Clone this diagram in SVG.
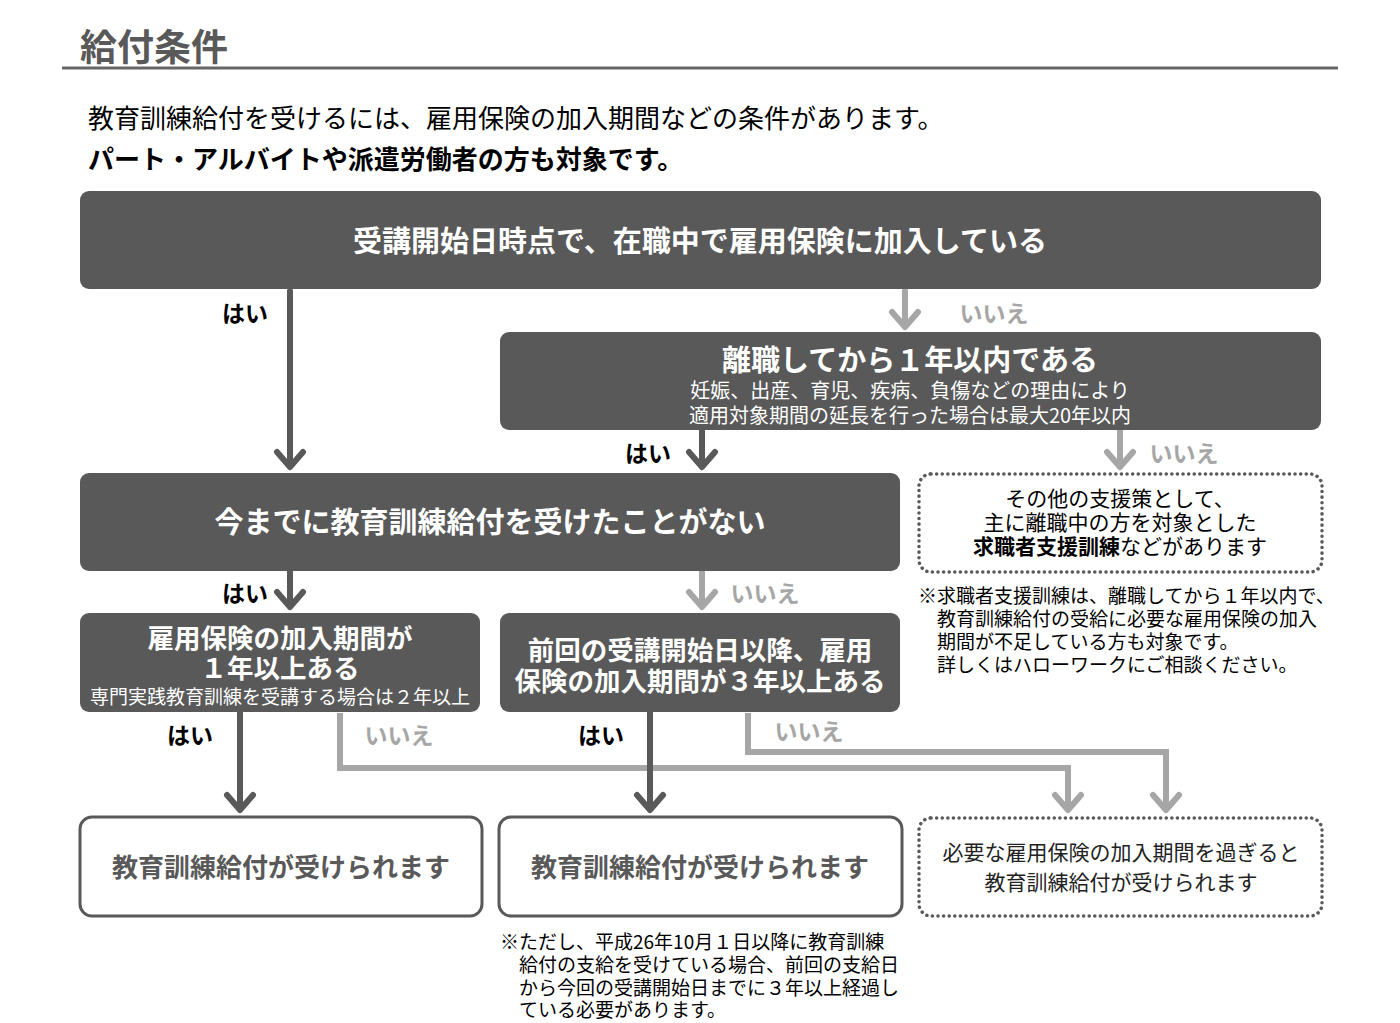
<svg xmlns="http://www.w3.org/2000/svg" width="1400" height="1023" viewBox="0 0 1400 1023">
<style>
text{font-family:"Noto Sans CJK JP","Noto Sans",sans-serif;dominant-baseline:central;text-anchor:middle}
.dark{fill:#595959}
.wt{fill:#fff;font-weight:bold}
.ws{fill:#fff;font-size:20px}
.outline{fill:#fff;stroke:#595959;stroke-width:3}
.dotted{fill:#fff;stroke:#595959;stroke-width:3.5;stroke-dasharray:0.1 5.5;stroke-linecap:round}
.cd{fill:none;stroke:#595959;stroke-width:6;stroke-linecap:round;stroke-linejoin:round}
.cg{fill:none;stroke:#a6a6a6;stroke-width:6;stroke-linejoin:miter}
.cgh{fill:none;stroke:#a6a6a6;stroke-width:6;stroke-linecap:round;stroke-linejoin:round}
.yes{font-size:23px;font-weight:bold;fill:#000}
.no{font-size:23px;font-weight:bold;fill:#a6a6a6}
.note{font-size:19px;fill:#000;text-anchor:start}
</style>
<rect width="1400" height="1023" fill="#fff"/>
<g id="header">
<text x="80" y="45" style="font-size:37px;font-weight:bold;fill:#595959;text-anchor:start">給付条件</text>
<line x1="62" y1="68" x2="1338" y2="68" stroke="#666" stroke-width="3"/>
<text x="88" y="116" style="font-size:26px;fill:#000;text-anchor:start">教育訓練給付を受けるには、雇用保険の加入期間などの条件があります。</text>
<text x="88" y="157" style="font-size:26px;font-weight:bold;fill:#000;text-anchor:start">パート・アルバイトや派遣労働者の方も対象です。</text>
</g>
<g id="connectors">
<path class="cd" d="M290 291 V466 M277 452 L290 467 L303 452"/>
<path class="cgh" d="M905 291 V326 M892 312 L905 327 L918 312"/>
<path class="cd" d="M702 431 V466 M689 452 L702 467 L715 452"/>
<path class="cgh" d="M1120 431 V466 M1107 452 L1120 467 L1133 452"/>
<path class="cd" d="M290 572 V606 M277 592 L290 607 L303 592"/>
<path class="cgh" d="M702 572 V606 M689 592 L702 607 L715 592"/>
<path class="cd" d="M240 713 V809 M227 795 L240 810 L253 795"/>
<path class="cg" d="M340 713 V768 H1068 V808"/>
<path class="cgh" d="M1055 795 L1068 810 L1081 795"/>
<path class="cg" d="M748 713 V752 H1166 V808"/>
<path class="cgh" d="M1153 795 L1166 810 L1179 795"/>
<path class="cd" d="M650 713 V809 M637 795 L650 810 L663 795"/>
<text class="yes" x="245" y="312">はい</text>
<text class="no" x="994" y="312">いいえ</text>
<text class="yes" x="648" y="452">はい</text>
<text class="no" x="1184" y="452">いいえ</text>
<text class="yes" x="245" y="592">はい</text>
<text class="no" x="765" y="592">いいえ</text>
<text class="yes" x="190" y="734">はい</text>
<text class="no" x="399" y="734">いいえ</text>
<text class="yes" x="601" y="734">はい</text>
<text class="no" x="809" y="730">いいえ</text>
</g>
<g id="q1">
<rect class="dark" x="80" y="191" width="1241" height="98" rx="9"/>
<text class="wt" x="700" y="239" style="font-size:29px">受講開始日時点で、在職中で雇用保険に加入している</text>
</g>
<g id="q2">
<rect class="dark" x="500" y="332" width="821" height="98" rx="9"/>
<text class="wt" x="910" y="358" style="font-size:29px">離職してから１年以内である</text>
<text class="ws" x="910" y="389">妊娠、出産、育児、疾病、負傷などの理由により</text>
<text class="ws" x="910" y="414">適用対象期間の延長を行った場合は最大20年以内</text>
</g>
<g id="q3">
<rect class="dark" x="80" y="473" width="820" height="98" rx="9"/>
<text class="wt" x="490" y="520" style="font-size:29px">今までに教育訓練給付を受けたことがない</text>
</g>
<g id="other">
<rect class="dotted" x="919" y="474" width="403" height="98" rx="12"/>
<text x="1120" y="497" style="font-size:21px;fill:#000">その他の支援策として、</text>
<text x="1120" y="521" style="font-size:21px;fill:#000">主に離職中の方を対象とした</text>
<text x="1120" y="545" style="font-size:21px;fill:#000"><tspan font-weight="bold">求職者支援訓練</tspan>などがあります</text>
</g>
<g id="note1">
<text class="note" x="918" y="594">※求職者支援訓練は、離職してから１年以内で、</text>
<text class="note" x="937" y="617">教育訓練給付の受給に必要な雇用保険の加入</text>
<text class="note" x="937" y="640">期間が不足している方も対象です。</text>
<text class="note" x="937" y="663">詳しくはハローワークにご相談ください。</text>
</g>
<g id="q4">
<rect class="dark" x="80" y="613" width="400" height="99" rx="9"/>
<text class="wt" x="280" y="636" style="font-size:26.5px">雇用保険の加入期間が</text>
<text class="wt" x="280" y="666" style="font-size:26.5px">１年以上ある</text>
<text x="280" y="695" style="font-size:19px;fill:#fff">専門実践教育訓練を受講する場合は２年以上</text>
</g>
<g id="q5">
<rect class="dark" x="500" y="613" width="400" height="99" rx="9"/>
<text class="wt" x="700" y="648" style="font-size:26.5px">前回の受講開始日以降、雇用</text>
<text class="wt" x="700" y="679" style="font-size:26.5px">保険の加入期間が３年以上ある</text>
</g>
<g id="r1">
<rect class="outline" x="80" y="817" width="402" height="99" rx="12"/>
<text x="281" y="865" style="font-size:26px;font-weight:bold;fill:#595959">教育訓練給付が受けられます</text>
</g>
<g id="r2">
<rect class="outline" x="499" y="817" width="403" height="99" rx="12"/>
<text x="700" y="865" style="font-size:26px;font-weight:bold;fill:#595959">教育訓練給付が受けられます</text>
</g>
<g id="r3">
<rect class="dotted" x="919" y="818" width="403" height="98" rx="12"/>
<text x="1121" y="851" style="font-size:21px;fill:#222">必要な雇用保険の加入期間を過ぎると</text>
<text x="1121" y="881" style="font-size:21px;fill:#222">教育訓練給付が受けられます</text>
</g>
<g id="note2">
<text class="note" x="500" y="940">※ただし、平成26年10月１日以降に教育訓練</text>
<text class="note" x="519" y="963">給付の支給を受けている場合、前回の支給日</text>
<text class="note" x="519" y="986">から今回の受講開始日までに３年以上経過し</text>
<text class="note" x="519" y="1008">ている必要があります。</text>
</g>
</svg>
